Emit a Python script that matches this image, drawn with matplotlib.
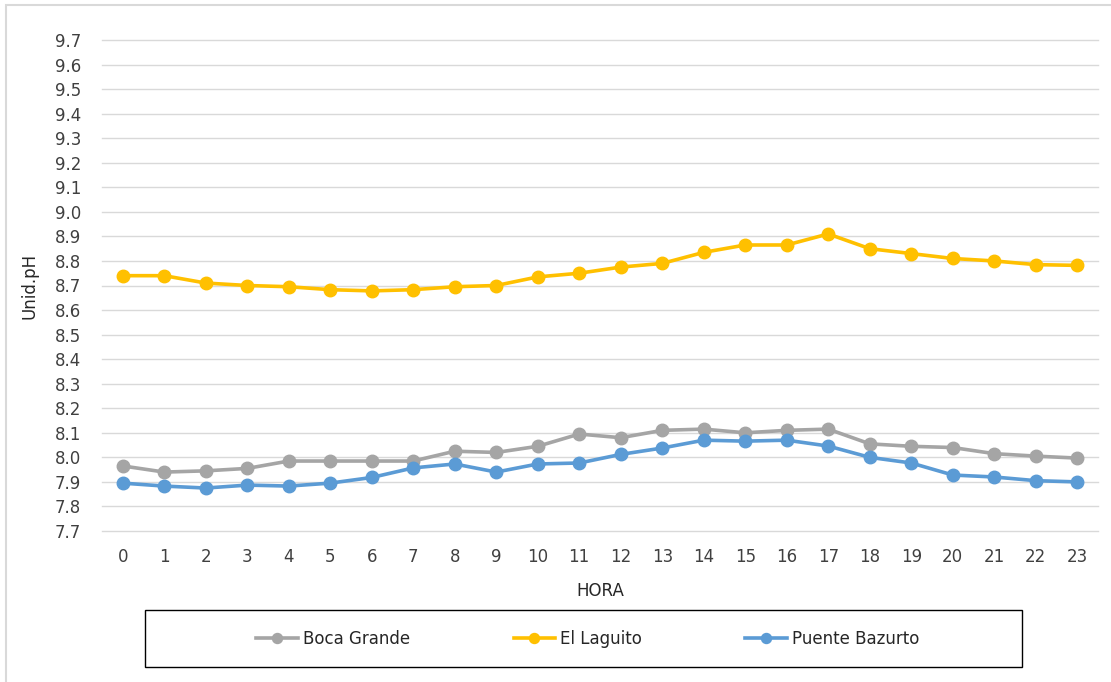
import matplotlib.pyplot as plt
from matplotlib.patches import Rectangle

# pH por hora en tres estaciones
horas = list(range(24))
boca_grande = [7.965, 7.94, 7.945, 7.955, 7.985, 7.985, 7.985, 7.985, 8.025, 8.02, 8.045, 8.095,
               8.08, 8.11, 8.115, 8.10, 8.11, 8.115, 8.055, 8.045, 8.04, 8.015, 8.005, 7.997]
el_laguito = [8.74, 8.74, 8.71, 8.70, 8.695, 8.683, 8.678, 8.683, 8.695, 8.70, 8.735, 8.75,
              8.775, 8.79, 8.835, 8.865, 8.865, 8.91, 8.85, 8.83, 8.81, 8.80, 8.785, 8.782]
puente_bazurto = [7.895, 7.883, 7.875, 7.887, 7.883, 7.895, 7.918, 7.957, 7.973, 7.94, 7.973, 7.977,
                  8.012, 8.038, 8.07, 8.066, 8.07, 8.046, 8.0, 7.977, 7.928, 7.92, 7.905, 7.90]
yticks = [round(7.7 + 0.1 * i, 1) for i in range(21)]

plt.rcParams['font.family'] = ['DejaVu Sans']

fig = plt.figure(figsize=(11.11, 6.82), dpi=100)
W, H = 1111, 682
ax = fig.add_axes([102 / W, (H - 531) / H, 996 / W, 491 / H])

# borde exterior del grafico
fig.patches.append(Rectangle((6 / W, -0.05), 1.2, (H - 5) / H + 0.05, transform=fig.transFigure,
                             fill=False, edgecolor='#d9d9d9', linewidth=1.5))
# recuadro de la leyenda
fig.patches.append(Rectangle((145 / W, 15 / H), 877 / W, 57 / H, transform=fig.transFigure,
                             fill=False, edgecolor='black', linewidth=1))

series = [('Boca Grande', boca_grande, '#a5a5a5'),
          ('El Laguito', el_laguito, '#ffc000'),
          ('Puente Bazurto', puente_bazurto, '#5b9bd5')]
for name, vals, col in series:
    ax.plot(horas, vals, color=col, linewidth=2.6, marker='o', markersize=9, label=name)

ax.set_xlim(-0.5, 23.5)
ax.set_ylim(7.7, 9.7)
ax.set_yticks(yticks)
ax.set_yticklabels([f'{v:.1f}' for v in yticks])
ax.set_xticks(horas)
ax.grid(axis='y', color='#d9d9d9', linewidth=1)
for gl in ax.get_ygridlines():
    gl.set_clip_on(False)
ax.set_axisbelow(True)
for s in ax.spines.values():
    s.set_visible(False)
ax.tick_params(length=0, labelsize=12, colors='#404040')
ax.tick_params(axis='y', pad=15)
ax.tick_params(axis='x', pad=12)
ax.set_xlabel('HORA', fontsize=12, color='#262626', labelpad=12)
ax.set_ylabel('Unid.pH', fontsize=12, color='#262626', labelpad=12)

leg = fig.legend(loc='center', ncol=3, bbox_to_anchor=(588 / W, 43.5 / H),
                 fontsize=12, frameon=False, markerscale=0.8,
                 handlelength=2.5, handletextpad=0.3, columnspacing=6.2)
for txt in leg.get_texts():
    txt.set_color('#262626')

fig.savefig('out.png', dpi=100)
